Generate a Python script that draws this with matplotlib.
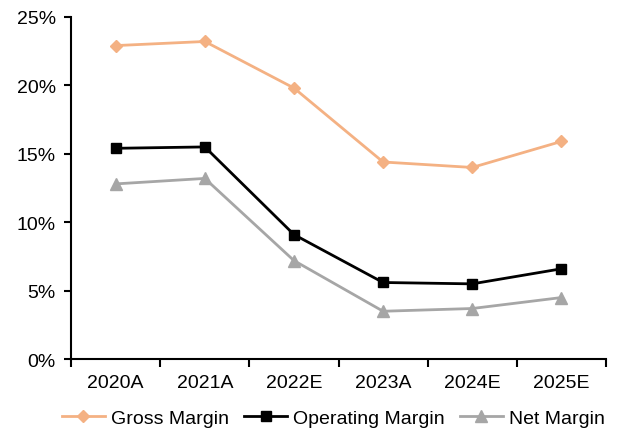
import matplotlib.pyplot as plt
from matplotlib.ticker import FuncFormatter, FixedLocator


FILE = 'out.png'

YEARS = ['2020A', '2021A', '2022E', '2023A', '2024E', '2025E']
GROSS_MARGIN = [22.9, 23.2, 19.8, 14.4, 14.0, 15.9]
OPERATING_MARGIN = [15.4, 15.5, 9.1, 5.6, 5.5, 6.6]
NET_MARGIN = [12.8, 13.2, 7.2, 3.5, 3.7, 4.5]

plt.rcParams['font.family'] = ['Liberation Sans Narrow', 'Liberation Sans', 'DejaVu Sans']


def main():
    fig = plt.figure(figsize=(6.24, 4.35), dpi=100)
    ax = fig.add_axes([0.114, 0.172, 0.857, 0.787])

    x = range(len(YEARS))
    ax.plot(x, GROSS_MARGIN, color='#F4B183', marker='D', markersize=6, lw=2, label='Gross Margin')
    ax.plot(x, OPERATING_MARGIN, color='black', marker='s', markersize=7, lw=2, label='Operating Margin')
    ax.plot(x, NET_MARGIN, color='#A6A6A6', marker='^', markersize=8, lw=2, label='Net Margin')

    # Axes and ticks
    ax.set_xlim(-0.5, len(YEARS) - 0.5)
    ax.set_ylim(0, 25)
    ax.set_yticks([0, 5, 10, 15, 20, 25])
    ax.yaxis.set_major_formatter(FuncFormatter(lambda v, _: f'{v:.0f}%'))
    ax.set_xticks(list(x))
    ax.set_xticklabels(YEARS)
    ax.tick_params(axis='x', which='major', length=0, pad=11, labelsize=14)
    ax.xaxis.set_minor_locator(FixedLocator([i - 0.5 for i in range(len(YEARS) + 1)]))
    ax.tick_params(axis='x', which='minor', length=6, width=1.5, direction='out')
    ax.tick_params(axis='y', length=5, width=1.5, direction='out', labelsize=14, pad=6)

    for side in ['top', 'right']:
        ax.spines[side].set_visible(False)
    for side in ['left', 'bottom']:
        ax.spines[side].set_linewidth(1.5)

    ax.legend(loc='upper center', bbox_to_anchor=(0.49, -0.095), ncol=3, frameon=False,
              fontsize=14, handlelength=2.2, handletextpad=0.3, columnspacing=0.8)

    fig.savefig(FILE)


if __name__ == '__main__':
    main()
